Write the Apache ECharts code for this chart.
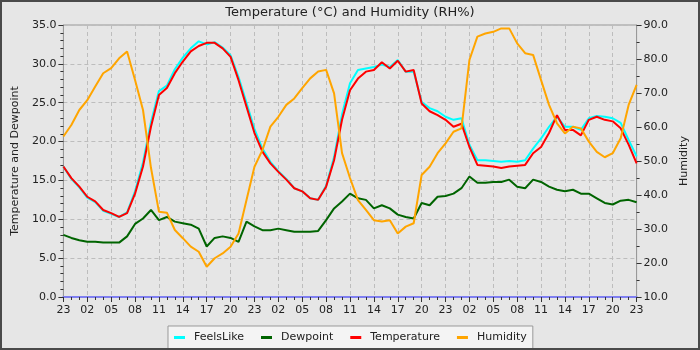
<!DOCTYPE html>
<html>
<head>
<meta charset="utf-8">
<script src="https://cdn.jsdelivr.net/npm/echarts@6/dist/echarts.min.js"></script>
<style>
  html, body { margin: 0; padding: 0; background: #e6e6e6; }
  #chart {
    width: 700px;
    height: 350px;
    box-sizing: border-box;
    border: 2px solid #4a4a4a;
    background: #e6e6e6;
  }
</style>
</head>
<body>
<div id="chart"></div>
<script>
// hour tick labels, one every 3 hours over 72 hours
const hourLabels = [
  "23", "02", "05", "08", "11", "14", "17", "20",
  "23", "02", "05", "08", "11", "14", "17", "20",
  "23", "02", "05", "08", "11", "14", "17", "20",
  "23",
];

// hourly readings, index = hours since the first 23:00
const feelsLike = [
  16.8, 15.2, 14.1, 12.8, 12.2, 11.1, 10.7, 10.3, 10.9, 13.6, 17.3, 22.5,
  26.5, 27.2, 29.3, 30.8, 32.0, 32.9, 32.5, 32.8, 32.1, 31.1, 28.3, 25.0,
  21.6, 19.1, 17.4, 16.2, 15.2, 14.0, 13.6, 12.7, 12.5, 14.3, 18.0, 23.5,
  27.5, 29.2, 29.4, 29.6, 29.9, 29.6, 30.5, 29.0, 29.0, 25.1, 24.3, 23.9,
  23.2, 22.8, 23.0, 19.6, 17.6, 17.6, 17.5, 17.4, 17.5, 17.4, 17.6, 19.1,
  20.4, 21.9, 23.2, 21.9, 21.9, 21.5, 23.0, 23.3, 23.2, 23.0, 22.4, 20.2,
  18.1,
];

const dewpoint = [
  8.0, 7.6, 7.3, 7.1, 7.1, 7.0, 7.0, 7.0, 7.8, 9.4, 10.1, 11.2,
  9.9, 10.3, 9.7, 9.5, 9.3, 8.8, 6.5, 7.6, 7.8, 7.6, 7.1, 9.7,
  9.1, 8.6, 8.6, 8.8, 8.6, 8.4, 8.4, 8.4, 8.5, 9.9, 11.4, 12.3,
  13.3, 12.7, 12.5, 11.4, 11.8, 11.4, 10.6, 10.3, 10.1, 12.1, 11.8, 12.9,
  13.0, 13.3, 14.0, 15.5, 14.7, 14.7, 14.8, 14.8, 15.1, 14.2, 14.0, 15.1,
  14.8, 14.2, 13.8, 13.6, 13.8, 13.3, 13.3, 12.7, 12.1, 11.9, 12.4, 12.5,
  12.2,
];

const temperature = [
  16.8, 15.3, 14.2, 12.9, 12.3, 11.2, 10.8, 10.3, 10.8, 13.3, 16.8, 21.9,
  26.0, 26.9, 28.8, 30.3, 31.6, 32.3, 32.7, 32.7, 32.0, 30.9, 27.9, 24.5,
  21.1, 18.7, 17.2, 16.1, 15.1, 14.0, 13.6, 12.7, 12.5, 14.2, 17.6, 22.8,
  26.6, 28.1, 29.0, 29.2, 30.2, 29.4, 30.4, 29.0, 29.2, 24.9, 23.9, 23.4,
  22.8, 21.9, 22.3, 19.3, 17.0, 16.9, 16.8, 16.6, 16.8, 16.9, 17.0, 18.5,
  19.3, 21.1, 23.4, 21.5, 21.5, 20.8, 22.8, 23.2, 22.8, 22.6, 21.7, 19.6,
  17.2,
];

const humidity = [
  57.2, 60.6, 65.0, 67.9, 71.9, 75.8, 77.3, 80.2, 82.2, 73.8, 65.0, 48.0,
  35.1, 34.8, 29.7, 27.3, 24.8, 23.3, 18.9, 21.4, 22.8, 24.8, 28.7, 38.5,
  48.3, 53.2, 60.1, 63.0, 66.5, 68.4, 71.4, 74.3, 76.3, 76.8, 69.9, 52.3,
  45.0, 38.5, 35.6, 32.6, 32.2, 32.6, 28.7, 30.7, 31.7, 45.9, 48.3, 52.3,
  55.2, 58.6, 59.6, 79.7, 86.6, 87.5, 88.0, 89.0, 89.0, 84.6, 81.7, 81.2,
  73.8, 66.5, 61.1, 58.1, 60.1, 59.6, 55.7, 52.7, 51.1, 52.3, 56.7, 66.5,
  72.4,
];

function toPoints(arr) {
  return arr.map((v, i) => [i, v]);
}

const font = "DejaVu Sans";
const chart = echarts.init(document.getElementById("chart"));

const option = {
  animation: false,
  backgroundColor: "#e6e6e6",
  textStyle: { fontFamily: font },
  title: {
    text: "Temperature (°C) and Humidity (RH%)",
    left: "center",
    top: 4,
    padding: 0,
    textStyle: { fontFamily: font, fontSize: 13, fontWeight: "normal", color: "#222" },
  },
  legend: {
    left: 166,
    top: 324,
    padding: [6, 6, 6, 6],
    backgroundColor: "#f4f4f4",
    borderColor: "#999",
    borderWidth: 1,
    borderRadius: 0,
    itemWidth: 11,
    itemHeight: 3,
    itemGap: 17,
    icon: "rect",
    textStyle: { fontFamily: font, fontSize: 11, color: "#222", padding: [0, 0, 0, 4] },
    data: ["FeelsLike", "Dewpoint", "Temperature", "Humidity"],
  },
  grid: {
    left: 53,
    right: 58,
    top: 23,
    bottom: 51,
    show: true,
    borderColor: "#999",
    borderWidth: 1,
    backgroundColor: "transparent",
  },
  xAxis: {
    type: "value",
    min: 0,
    max: 72,
    interval: 3,
    axisLine: { onZero: false, lineStyle: { color: "#7f7ff0", width: 2 } },
    axisTick: { length: 5, lineStyle: { color: "#333" } },
    minorTick: { show: true, splitNumber: 3, length: 3, lineStyle: { color: "#333" } },
    axisLabel: {
      color: "#222",
      fontSize: 11,
      margin: 8,
      formatter: (v) => hourLabels[Math.round(v / 3)],
    },
    splitLine: { show: true, lineStyle: { color: "#bdbdbd", type: [4, 3] } },
  },
  yAxis: [
    {
      type: "value",
      min: 0,
      max: 35,
      interval: 5,
      name: "Temperature and Dewpoint",
      nameLocation: "middle",
      nameGap: 34,
      nameTextStyle: { fontFamily: font, fontSize: 11, color: "#222" },
      axisLine: { show: true, lineStyle: { color: "#999" } },
      axisTick: { show: true, length: 5, lineStyle: { color: "#333" } },
      minorTick: { show: true, splitNumber: 5, length: 3, lineStyle: { color: "#333" } },
      axisLabel: {
        color: "#222",
        fontSize: 11,
        margin: 7,
        formatter: (v) => v.toFixed(1),
      },
      splitLine: { show: true, lineStyle: { color: "#bdbdbd", type: [4, 3] } },
    },
    {
      type: "value",
      min: 10,
      max: 90,
      interval: 10,
      position: "right",
      name: "Humidity",
      nameLocation: "middle",
      nameGap: 40,
      nameTextStyle: { fontFamily: font, fontSize: 11, color: "#222" },
      axisLine: { show: true, lineStyle: { color: "#999" } },
      axisTick: { show: true, length: 5, lineStyle: { color: "#333" } },
      minorTick: { show: true, splitNumber: 2, length: 3, lineStyle: { color: "#333" } },
      axisLabel: {
        color: "#222",
        fontSize: 11,
        margin: 7,
        formatter: (v) => v.toFixed(1),
      },
      splitLine: { show: false },
    },
  ],
  series: [
    {
      name: "FeelsLike",
      type: "line",
      symbol: "none",
      itemStyle: { color: "#00ffff" },
      lineStyle: { width: 2, color: "#00ffff" },
      data: toPoints(feelsLike),
    },
    {
      name: "Dewpoint",
      type: "line",
      symbol: "none",
      itemStyle: { color: "#006400" },
      lineStyle: { width: 2, color: "#006400" },
      data: toPoints(dewpoint),
    },
    {
      name: "Temperature",
      type: "line",
      symbol: "none",
      itemStyle: { color: "#ff0000" },
      lineStyle: { width: 2, color: "#ff0000" },
      data: toPoints(temperature),
    },
    {
      name: "Humidity",
      type: "line",
      yAxisIndex: 1,
      symbol: "none",
      itemStyle: { color: "#ffa500" },
      lineStyle: { width: 2, color: "#ffa500" },
      data: toPoints(humidity),
    },
  ],
};

chart.setOption(option);
</script>
</body>
</html>
